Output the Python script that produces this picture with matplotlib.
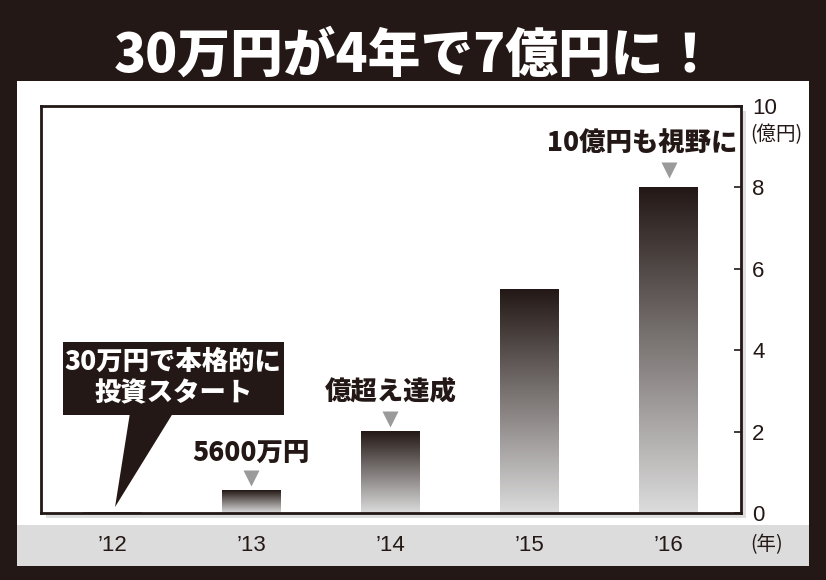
import matplotlib
matplotlib.use("Agg")
import matplotlib.pyplot as plt
import numpy as np
from matplotlib.patches import Rectangle, Polygon
from matplotlib.colors import LinearSegmentedColormap
from matplotlib.transforms import offset_copy

# ---- data ----
years = ["’12", "’13", "’14", "’15", "’16"]
values = [0.003, 0.56, 2.0, 5.5, 8.0]          # 億円
bar_labels = ["", "5600万円", "億超え達成", "", "10億円も視野に"]
y_ticks = [0, 2, 4, 6, 8, 10]
y_tick_labels = ["0", "2", "4", "6", "8", "10"]
title = "30万円が4年で7億円に！"
callout_text = "30万円で本格的に\n投資スタート"
y_unit = "(億円)"
x_unit = "(年)"

# ---- style ----
K = "#231815"
JP = ["Noto Sans CJK JP", "DejaVu Sans"]
NUM = ["Liberation Sans Narrow", "Liberation Sans", "DejaVu Sans"]
plt.rcParams["font.family"] = JP

W, H = 826, 580
fig = plt.figure(figsize=(W / 100, H / 100), dpi=100, facecolor=K)


def fx(px):
    return px / W


def fy(py):
    return 1 - py / H


# white panel
fig.patches.append(Rectangle((fx(17), fy(566)), fx(809) - fx(17), fy(81) - fy(566),
                             transform=fig.transFigure, facecolor="white",
                             edgecolor="none", zorder=-3))
# gray strip for x labels
fig.patches.append(Rectangle((fx(17), fy(566)), fx(809) - fx(17), fy(525) - fy(566),
                             transform=fig.transFigure, facecolor="#dcdcdc",
                             edgecolor="none", zorder=-2))
# shadow of plot frame
fig.patches.append(Rectangle((fx(46), fy(518)), fx(746) - fx(46), fy(111) - fy(518),
                             transform=fig.transFigure, facecolor="#dedede",
                             edgecolor="none", zorder=-1))

ax = fig.add_axes([fx(41), fy(513), fx(741) - fx(41), fy(106) - fy(513)], zorder=1)
ax.set_facecolor("white")

x = np.arange(len(years))
bars = ax.bar(x, values, width=0.42, color="none", edgecolor="none")
grad = np.linspace(0, 1, 256).reshape(-1, 1)
cmap = LinearSegmentedColormap.from_list("g", ["#dcdcdc", K])
for b in bars:
    x0, y0 = b.get_xy()
    ax.imshow(grad, extent=[x0, x0 + b.get_width(), y0, y0 + b.get_height()],
              origin="lower", aspect="auto", cmap=cmap, zorder=2,
              interpolation="bilinear")

ax.set_xlim(-0.51, 4.52)
ax.set_ylim(0, 10)

for s in ax.spines.values():
    s.set_linewidth(2)
    s.set_color(K)

# y axis on the right
ax.yaxis.tick_right()
ax.set_yticks(y_ticks)
ax.set_yticklabels(y_tick_labels, family=NUM, fontsize=16, color=K)
ax.tick_params(axis="y", direction="in", length=5, width=1.2, color=K, pad=8)
fig.text(fx(776), fy(135), y_unit, fontsize=14, color=K, ha="center", va="center",
         family=JP)

# x axis labels in gray strip
ax.set_xticks(x)
ax.set_xticklabels(years, family=NUM, fontsize=16, color=K)
ax.tick_params(axis="x", length=0, pad=16)
fig.text(fx(767), fy(545), x_unit, fontsize=14, color=K, ha="center", va="center",
         family=JP)

# bar annotations (offsets in pixels)
text_dx = [0, 0, 0, 0, -26]
text_dy = [0, 38, 40, 0, 45]
tri_dy = [0, 12, 13, 0, 17]
for i, (v, lab) in enumerate(zip(values, bar_labels)):
    if not lab:
        continue
    tr = offset_copy(ax.transData, fig=fig, x=0, y=tri_dy[i], units="dots")
    ax.plot([x[i]], [v], marker="v", markersize=12, color="#9a9a9a",
            markeredgecolor="none", transform=tr, zorder=3, clip_on=False)
    ax.annotate(lab, (x[i], v), xytext=(text_dx[i], text_dy[i]),
                textcoords="offset pixels", ha="center", va="center", fontsize=19,
                fontweight="heavy", color=K, family=JP)

# callout for '12 (data coords)
ax.add_patch(Rectangle((-0.352, 2.408), 1.588, 1.793, facecolor=K, edgecolor="none",
                       zorder=4))
ax.add_patch(Polygon([(0.129, 2.45), (0.438, 2.45), (x[0] + 0.022, 0.147)], closed=True,
                     facecolor=K, edgecolor="none", zorder=4))
ax.text(0.44, 3.33, callout_text, ha="center", va="center", fontsize=19,
        fontweight="heavy", color="white", linespacing=1.15, zorder=5, family=JP)

# title
fig.text(fx(415), fy(56), title, ha="center", va="center", fontsize=38,
         fontweight="heavy", color="white", family=JP)

fig.savefig("out.png", dpi=100, facecolor=K)
